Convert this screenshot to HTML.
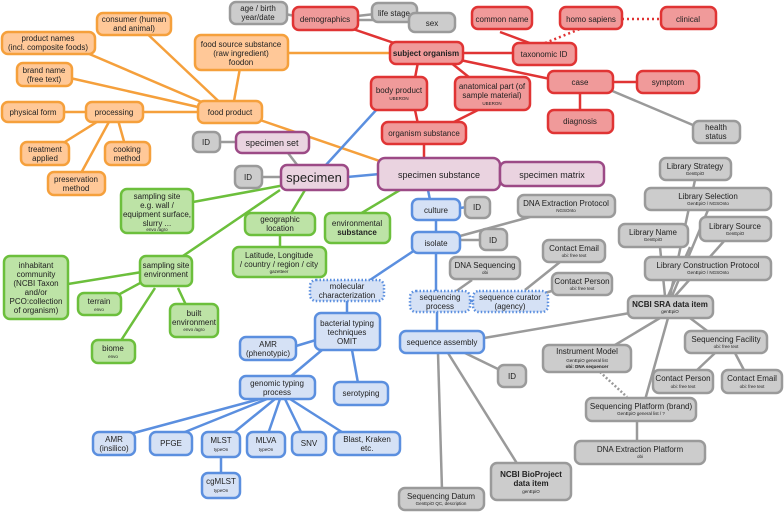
<!DOCTYPE html>
<html><head><meta charset="utf-8"><style>
body{margin:0;background:#fff}
svg{display:block}
text{font-family:"Liberation Sans",sans-serif;text-anchor:middle;fill:#222;font-size:8px}
.s{font-size:4.5px}
.o{fill:#ffc898;stroke:#f5a03c;stroke-width:2.5}
.r{fill:#f09a9a;stroke:#e03434;stroke-width:2.5}
.p{fill:#ead3e0;stroke:#9c4a86;stroke-width:2.5}
.g{fill:#bde3a6;stroke:#6cbf3c;stroke-width:2.5}
.b{fill:#d5e1f5;stroke:#5b8fdf;stroke-width:2.5}
.bd{fill:#d5e1f5;stroke:#5b8fdf;stroke-width:2.5;stroke-dasharray:1.5 2}
.k{fill:#cccccc;stroke:#9a9a9a;stroke-width:2.5}
.lo{stroke:#f5a03c;stroke-width:2.5}
.lr{stroke:#e03434;stroke-width:2.5}
.lg{stroke:#6cbf3c;stroke-width:2.5}
.lb{stroke:#5b8fdf;stroke-width:2.5}
.lk{stroke:#9a9a9a;stroke-width:2.5}
</style></head><body>
<svg width="784" height="513" viewBox="0 0 784 513">
<g fill="none">
<line class="lo" x1="230" y1="112" x2="140" y2="27"/>
<line class="lo" x1="225" y1="112" x2="80" y2="50"/>
<line class="lo" x1="232" y1="112" x2="240" y2="68"/>
<line class="lo" x1="220" y1="112" x2="70" y2="78"/>
<line class="lo" x1="210" y1="112" x2="140" y2="112"/>
<line class="lo" x1="60" y1="112" x2="90" y2="112"/>
<line class="lo" x1="100" y1="120" x2="60" y2="145"/>
<line class="lo" x1="110" y1="120" x2="80" y2="175"/>
<line class="lo" x1="118" y1="120" x2="125" y2="145"/>
<line class="lo" x1="260" y1="120" x2="400" y2="168"/>
<line class="lo" x1="288" y1="53" x2="392" y2="53"/>
<line class="lk" x1="285" y1="14" x2="295" y2="16"/>
<line class="lk" x1="357" y1="16" x2="375" y2="14"/>
<line class="lk" x1="357" y1="20" x2="410" y2="20"/>
<line class="lr" x1="350" y1="28" x2="400" y2="45"/>
<line class="lr" x1="462" y1="53" x2="515" y2="53"/>
<line class="lr" x1="500" y1="32" x2="535" y2="45"/>
<line class="lk" x1="610" y1="90" x2="700" y2="128"/>
<path d="M545 43 L580 29 M622 19 L661 19" stroke="#e03434" stroke-width="2.5" stroke-dasharray="2 3"/>
<line class="lr" x1="460" y1="60" x2="555" y2="80"/>
<line class="lr" x1="613" y1="82" x2="640" y2="82"/>
<line class="lr" x1="580" y1="92" x2="580" y2="112"/>
<line class="lr" x1="418" y1="62" x2="415" y2="78"/>
<line class="lr" x1="450" y1="62" x2="470" y2="78"/>
<line class="lr" x1="415" y1="110" x2="418" y2="124"/>
<line class="lr" x1="478" y1="110" x2="450" y2="124"/>
<line class="lr" x1="424" y1="144" x2="424" y2="160"/>
<line class="lb" x1="325" y1="166" x2="378" y2="108"/>
<line class="lb" x1="347" y1="177" x2="380" y2="174"/>
<line class="lb" x1="498" y1="174" x2="502" y2="174"/>
<line class="lk" x1="220" y1="142" x2="237" y2="142"/>
<line class="lk" x1="288" y1="153" x2="298" y2="166"/>
<line class="lk" x1="262" y1="177" x2="282" y2="177"/>
<line class="lg" x1="193" y1="202" x2="285" y2="185"/>
<line class="lg" x1="305" y1="190" x2="290" y2="215"/>
<line class="lg" x1="280" y1="190" x2="180" y2="258"/>
<line class="lg" x1="280" y1="235" x2="280" y2="248"/>
<line class="lg" x1="360" y1="214" x2="400" y2="190"/>
<line class="lg" x1="68" y1="284" x2="142" y2="272"/>
<line class="lg" x1="118" y1="295" x2="142" y2="282"/>
<line class="lg" x1="155" y1="288" x2="120" y2="342"/>
<line class="lg" x1="178" y1="288" x2="186" y2="305"/>
<line class="lb" x1="428" y1="190" x2="430" y2="200"/>
<line class="lb" x1="460" y1="208" x2="467" y2="207"/>
<line class="lb" x1="436" y1="220" x2="436" y2="233"/>
<line class="lb" x1="415" y1="250" x2="370" y2="280"/>
<line class="lk" x1="460" y1="240" x2="481" y2="240"/>
<line class="lk" x1="460" y1="236" x2="530" y2="217"/>
<line class="lb" x1="436" y1="253" x2="436" y2="292"/>
<line class="lk" x1="455" y1="292" x2="472" y2="280"/>
<line class="lk" x1="525" y1="290" x2="560" y2="262"/>
<line class="lk" x1="545" y1="293" x2="555" y2="290"/>
<line class="lb" x1="470" y1="301" x2="474" y2="301"/>
<line class="lb" x1="437" y1="312" x2="437" y2="332"/>
<line class="lk" x1="484" y1="338" x2="630" y2="313"/>
<line class="lk" x1="465" y1="353" x2="500" y2="370"/>
<line class="lk" x1="438" y1="353" x2="442" y2="490"/>
<line class="lk" x1="448" y1="353" x2="518" y2="465"/>
<line class="lb" x1="347" y1="301" x2="347" y2="314"/>
<line class="lb" x1="296" y1="346" x2="316" y2="340"/>
<line class="lb" x1="322" y1="350" x2="290" y2="377"/>
<line class="lb" x1="352" y1="350" x2="358" y2="383"/>
<line class="lb" x1="260" y1="399" x2="130" y2="434"/>
<line class="lb" x1="267" y1="399" x2="180" y2="434"/>
<line class="lb" x1="275" y1="399" x2="232" y2="434"/>
<line class="lb" x1="280" y1="399" x2="268" y2="434"/>
<line class="lb" x1="285" y1="399" x2="302" y2="434"/>
<line class="lb" x1="290" y1="399" x2="345" y2="434"/>
<line class="lb" x1="221" y1="456" x2="221" y2="473"/>
<line class="lk" x1="670" y1="296" x2="695" y2="180"/>
<line class="lk" x1="672" y1="296" x2="708" y2="210"/>
<line class="lk" x1="665" y1="296" x2="660" y2="247"/>
<line class="lk" x1="668" y1="296" x2="690" y2="247"/>
<line class="lk" x1="675" y1="296" x2="725" y2="240"/>
<line class="lk" x1="660" y1="318" x2="610" y2="348"/>
<line class="lk" x1="668" y1="318" x2="645" y2="400"/>
<line class="lk" x1="690" y1="318" x2="710" y2="333"/>
<line class="lk" x1="715" y1="353" x2="695" y2="372"/>
<line class="lk" x1="735" y1="353" x2="745" y2="372"/>
<line class="lk" x1="637" y1="420" x2="637" y2="442"/>
<path d="M600 372 L627 397" stroke="#9a9a9a" stroke-width="2.5" stroke-dasharray="2 2"/>
</g>
<g>
<rect class="o" x="97" y="13" width="74" height="22" rx="6"/><text x="134" y="22">consumer (human</text><text x="134" y="31">and animal)</text>
<rect class="o" x="2" y="32" width="93" height="22" rx="6"/><text x="48" y="41">product names</text><text x="48" y="50">(incl. composite foods)</text>
<rect class="o" x="195" y="35" width="93" height="35" rx="6"/><text x="241" y="47">food source substance</text><text x="241" y="56">(raw ingredient)</text><text x="241" y="65">foodon</text>
<rect class="o" x="17" y="63" width="55" height="23" rx="6"/><text x="44" y="73">brand name</text><text x="44" y="82">(free text)</text>
<rect class="o" x="2" y="102" width="62" height="20" rx="6"/><text x="33" y="115">physical form</text>
<rect class="o" x="86" y="102" width="57" height="20" rx="6"/><text x="114" y="115">processing</text>
<rect class="o" x="198" y="101" width="64" height="22" rx="6"/><text x="230" y="115">food product</text>
<rect class="o" x="21" y="142" width="48" height="23" rx="6"/><text x="45" y="152">treatment</text><text x="45" y="161">applied</text>
<rect class="o" x="105" y="142" width="45" height="23" rx="6"/><text x="127" y="152">cooking</text><text x="127" y="161">method</text>
<rect class="o" x="48" y="172" width="57" height="23" rx="6"/><text x="76" y="182">preservation</text><text x="76" y="191">method</text>

<rect class="k" x="230" y="2" width="57" height="22" rx="6"/><text x="258" y="11">age / birth</text><text x="258" y="20">year/date</text>
<rect class="k" x="372" y="3" width="45" height="19" rx="6"/><text x="394" y="16">life stage</text>
<rect class="k" x="409" y="13" width="46" height="19" rx="6"/><text x="432" y="26">sex</text>
<rect class="r" x="293" y="7" width="65" height="23" rx="6"/><text x="325" y="22">demographics</text>
<rect class="r" x="390" y="42" width="73" height="22" rx="6"/><text x="426" y="56" font-weight="bold">subject organism</text>
<rect class="r" x="472" y="7" width="60" height="22" rx="6"/><text x="502" y="22">common name</text>
<rect class="r" x="560" y="7" width="62" height="22" rx="6"/><text x="591" y="22">homo sapiens</text>
<rect class="r" x="661" y="7" width="55" height="22" rx="6"/><text x="688" y="22">clinical</text>
<rect class="r" x="513" y="43" width="63" height="22" rx="6"/><text x="544" y="57">taxonomic ID</text>
<rect class="r" x="548" y="71" width="65" height="22" rx="6"/><text x="580" y="85">case</text>
<rect class="r" x="637" y="71" width="62" height="22" rx="6"/><text x="668" y="85">symptom</text>
<rect class="r" x="371" y="77" width="56" height="33" rx="6"/><text x="399" y="93">body product</text><text class="s" x="399" y="100">UBERON</text>
<rect class="r" x="455" y="77" width="75" height="33" rx="6"/><text x="492" y="89">anatomical part (of</text><text x="492" y="98">sample material)</text><text class="s" x="492" y="105">UBERON</text>
<rect class="r" x="548" y="110" width="65" height="23" rx="6"/><text x="580" y="124">diagnosis</text>
<rect class="k" x="693" y="121" width="47" height="22" rx="6"/><text x="716" y="130">health</text><text x="716" y="139">status</text>
<rect class="r" x="382" y="122" width="84" height="22" rx="6"/><text x="424" y="136">organism substance</text>

<rect class="k" x="193" y="132" width="27" height="20" rx="6"/><text x="206" y="145">ID</text>
<rect class="p" x="236" y="132" width="73" height="21" rx="6"/><text x="272" y="146" style="font-size:9px">specimen set</text>
<rect class="k" x="235" y="166" width="27" height="22" rx="6"/><text x="248" y="180">ID</text>
<rect class="p" x="281" y="165" width="67" height="25" rx="6"/><text x="314" y="182" style="font-size:13px">specimen</text>
<rect class="p" x="378" y="158" width="122" height="32" rx="7"/><text x="439" y="178" style="font-size:9px">specimen substance</text>
<rect class="p" x="500" y="162" width="104" height="24" rx="6"/><text x="552" y="178" style="font-size:9px">specimen matrix</text>

<rect class="g" x="121" y="189" width="72" height="44" rx="6"/><text x="157" y="199">sampling site</text><text x="157" y="208">e.g. wall /</text><text x="157" y="217">equipment surface,</text><text x="157" y="226">slurry ...</text><text class="s" x="157" y="231">envo /agro</text>
<rect class="g" x="245" y="213" width="70" height="22" rx="6"/><text x="280" y="222">geographic</text><text x="280" y="231">location</text>
<rect class="g" x="325" y="213" width="65" height="30" rx="6"/><text x="357" y="226">environmental</text><text x="357" y="235" font-weight="bold">substance</text>
<rect class="g" x="233" y="247" width="93" height="30" rx="6"/><text x="279" y="258">Latitude, Longitude</text><text x="279" y="267">/ country / region / city</text><text class="s" x="279" y="273">gazetteer</text>
<rect class="g" x="4" y="256" width="64" height="63" rx="6"/><text x="36" y="268">inhabitant</text><text x="36" y="277">community</text><text x="36" y="286">(NCBI Taxon</text><text x="36" y="295">and/or</text><text x="36" y="304">PCO:collection</text><text x="36" y="313">of organism)</text>
<rect class="g" x="140" y="256" width="52" height="30" rx="6"/><text x="166" y="268">sampling site</text><text x="166" y="277">environment</text>
<rect class="g" x="78" y="293" width="43" height="22" rx="6"/><text x="99" y="304">terrain</text><text class="s" x="99" y="311">envo</text>
<rect class="g" x="170" y="304" width="48" height="33" rx="6"/><text x="194" y="316">built</text><text x="194" y="325">environment</text><text class="s" x="194" y="331">envo /agro</text>
<rect class="g" x="92" y="340" width="43" height="23" rx="6"/><text x="113" y="351">biome</text><text class="s" x="113" y="358">envo</text>

<rect class="b" x="412" y="199" width="48" height="21" rx="6"/><text x="436" y="213">culture</text>
<rect class="k" x="465" y="197" width="25" height="21" rx="6"/><text x="477" y="210">ID</text>
<rect class="k" x="518" y="195" width="97" height="22" rx="6"/><text x="566" y="206">DNA Extraction Protocol</text><text class="s" x="566" y="212">NGSOnto</text>
<rect class="b" x="412" y="232" width="48" height="21" rx="6"/><text x="436" y="246">isolate</text>
<rect class="k" x="480" y="229" width="27" height="21" rx="6"/><text x="493" y="243">ID</text>
<rect class="k" x="543" y="240" width="62" height="22" rx="6"/><text x="574" y="251">Contact Email</text><text class="s" x="574" y="257">obi: free text</text>
<rect class="k" x="450" y="257" width="70" height="22" rx="6"/><text x="485" y="268">DNA Sequencing</text><text class="s" x="485" y="274">obi</text>
<rect class="k" x="552" y="273" width="60" height="22" rx="6"/><text x="582" y="284">Contact Person</text><text class="s" x="582" y="290">obi: free text</text>
<rect class="bd" x="410" y="291" width="60" height="21" rx="6"/><text x="440" y="300">sequencing</text><text x="440" y="309">process</text>
<rect class="bd" x="473" y="291" width="75" height="21" rx="6"/><text x="510" y="300">sequence curator</text><text x="510" y="309">(agency)</text>
<rect class="b" x="400" y="331" width="84" height="22" rx="6"/><text x="442" y="345">sequence assembly</text>

<rect class="k" x="660" y="158" width="71" height="22" rx="6"/><text x="695" y="169">Library Strategy</text><text class="s" x="695" y="175">GenEpiO</text>
<rect class="k" x="645" y="188" width="126" height="22" rx="6"/><text x="708" y="199">Library Selection</text><text class="s" x="708" y="205">GenEpiO / NGSOnto</text>
<rect class="k" x="619" y="224" width="69" height="23" rx="6"/><text x="653" y="235">Library Name</text><text class="s" x="653" y="241">GenEpiO</text>
<rect class="k" x="700" y="217" width="71" height="24" rx="6"/><text x="735" y="229">Library Source</text><text class="s" x="735" y="235">GenEpiO</text>
<rect class="k" x="645" y="257" width="126" height="23" rx="6"/><text x="708" y="268">Library Construction Protocol</text><text class="s" x="708" y="274">GenEpiO / NGSOnto</text>
<rect class="k" x="628" y="296" width="85" height="22" rx="6"/><text x="670" y="307" font-weight="bold">NCBI SRA data item</text><text class="s" x="670" y="313">genEpiO</text>
<rect class="k" x="543" y="345" width="88" height="27" rx="6"/><text x="587" y="354">Instrument Model</text><text class="s" x="587" y="362">GenEpiO general list</text><text class="s" x="587" y="368" font-weight="bold">obi: DNA sequencer</text>
<rect class="k" x="685" y="331" width="82" height="22" rx="6"/><text x="726" y="342">Sequencing Facility</text><text class="s" x="726" y="348">obi: free text</text>
<rect class="k" x="498" y="365" width="28" height="22" rx="6"/><text x="512" y="379">ID</text>
<rect class="k" x="653" y="370" width="60" height="23" rx="6"/><text x="683" y="381">Contact Person</text><text class="s" x="683" y="388">obi: free text</text>
<rect class="k" x="722" y="370" width="60" height="23" rx="6"/><text x="752" y="381">Contact Email</text><text class="s" x="752" y="388">obi: free text</text>
<rect class="k" x="586" y="398" width="110" height="23" rx="6"/><text x="641" y="409">Sequencing Platform (brand)</text><text class="s" x="641" y="415">GenEpiO general list / ?</text>
<rect class="k" x="575" y="441" width="130" height="23" rx="6"/><text x="640" y="452">DNA Extraction Platform</text><text class="s" x="640" y="458">obi</text>
<rect class="k" x="491" y="463" width="80" height="37" rx="6"/><text x="531" y="477" font-weight="bold">NCBI BioProject</text><text x="531" y="486" font-weight="bold">data item</text><text class="s" x="531" y="493">genEpiO</text>
<rect class="k" x="399" y="488" width="85" height="22" rx="6"/><text x="441" y="499">Sequencing Datum</text><text class="s" x="441" y="505">GenEpiO QC, description</text>

<rect class="bd" x="310" y="280" width="74" height="21" rx="6"/><text x="347" y="289">molecular</text><text x="347" y="298">characterization</text>
<rect class="b" x="315" y="313" width="65" height="37" rx="6"/><text x="347" y="326">bacterial typing</text><text x="347" y="335">techniques</text><text x="347" y="344">OMIT</text>
<rect class="b" x="240" y="337" width="56" height="23" rx="6"/><text x="268" y="347">AMR</text><text x="268" y="356">(phenotypic)</text>
<rect class="b" x="240" y="376" width="75" height="23" rx="6"/><text x="277" y="386">genomic typing</text><text x="277" y="395">process</text>
<rect class="b" x="334" y="382" width="54" height="23" rx="6"/><text x="361" y="396">serotyping</text>
<rect class="b" x="93" y="432" width="42" height="23" rx="6"/><text x="114" y="442">AMR</text><text x="114" y="451">(insilico)</text>
<rect class="b" x="150" y="432" width="42" height="23" rx="6"/><text x="171" y="446">PFGE</text>
<rect class="b" x="202" y="432" width="38" height="25" rx="6"/><text x="221" y="443">MLST</text><text class="s" x="221" y="451">typeOn</text>
<rect class="b" x="247" y="432" width="38" height="25" rx="6"/><text x="266" y="443">MLVA</text><text class="s" x="266" y="451">typeOn</text>
<rect class="b" x="292" y="432" width="34" height="23" rx="6"/><text x="309" y="446">SNV</text>
<rect class="b" x="334" y="432" width="66" height="23" rx="6"/><text x="367" y="442">Blast, Kraken</text><text x="367" y="451">etc.</text>
<rect class="b" x="202" y="473" width="38" height="25" rx="6"/><text x="221" y="484">cgMLST</text><text class="s" x="221" y="492">typeOn</text>
</g>
</svg>
</body></html>
